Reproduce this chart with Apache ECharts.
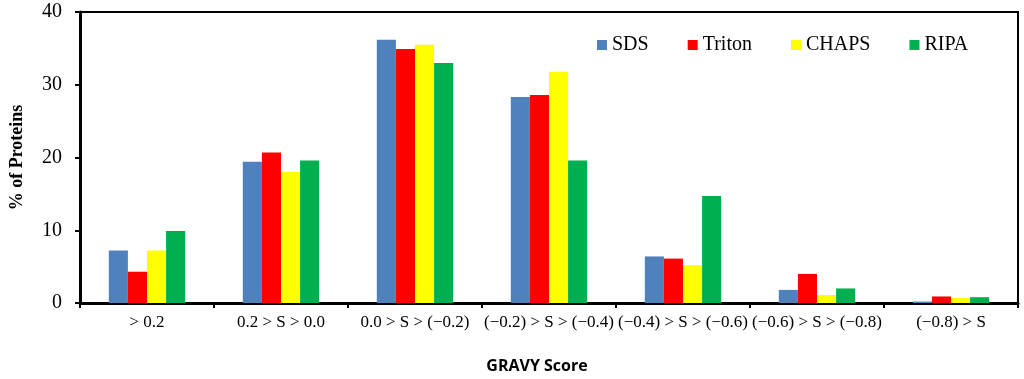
<!DOCTYPE html>
<html>
<head>
<meta charset="utf-8">
<script src="https://cdn.jsdelivr.net/npm/echarts@6/dist/echarts.min.js"></script>
<style>html,body{margin:0;padding:0;background:#fff;}#c{width:1024px;height:379px;}</style>
</head>
<body>
<div id="c"></div>
<script>
const categories = ['> 0.2', '0.2 > S > 0.0', '0.0 > S > (\u22120.2)', '(\u22120.2) > S > (\u22120.4)', '(\u22120.4) > S > (\u22120.6)', '(\u22120.6) > S > (\u22120.8)', '(\u22120.8) > S'];
const sds    = [7.2, 19.4, 36.2, 28.3, 6.4, 1.8, 0.2];
const triton = [4.3, 20.7, 34.9, 28.6, 6.1, 4.0, 0.9];
const chaps  = [7.2, 18.0, 35.5, 31.8, 5.2, 1.1, 0.7];
const ripa   = [9.9, 19.6, 33.0, 19.6, 14.7, 2.0, 0.8];
const seriesNames = ['SDS', 'Triton', 'CHAPS', 'RIPA'];
const colors = ['#4F81BD', '#FF0000', '#FFFF00', '#00B050'];
const yTicks = { min: 0, max: 40, interval: 10 };

const chart = echarts.init(document.getElementById('c'), null, { renderer: 'canvas' });
const serif = '"Liberation Serif", "Times New Roman", serif';
const data = [sds, triton, chaps, ripa];
chart.setOption({
  animation: false,
  color: colors,
  grid: { left: 75, right: 6, top: 12, bottom: 76, show: true, borderColor: '#000', borderWidth: 2, containLabel: false },
  legend: {
    data: seriesNames,
    left: 592, top: 30,
    icon: 'rect', itemWidth: 10, itemHeight: 10, itemGap: 39,
    textStyle: { fontFamily: serif, fontSize: 20, color: '#000' }
  },
  xAxis: {
    type: 'category',
    data: categories,
    name: 'GRAVY Score',
    nameLocation: 'middle',
    nameGap: 55,
    nameTextStyle: { fontFamily: '"Open Sans", sans-serif', fontWeight: 'bold', fontSize: 16, color: '#000', padding: [0, 24, 0, 0] },
    axisLine: { lineStyle: { color: '#000', width: 3 } },
    axisTick: { show: true, length: 5, lineStyle: { color: '#000', width: 2 } },
    axisLabel: { interval: 0, margin: 11, fontFamily: serif, fontSize: 17, color: '#000' },
    splitLine: { show: false }
  },
  yAxis: {
    type: 'value',
    min: yTicks.min, max: yTicks.max, interval: yTicks.interval,
    name: '% of Proteins',
    nameLocation: 'middle',
    nameGap: 54,
    nameRotate: 90,
    nameTextStyle: { fontFamily: serif, fontWeight: 'bold', fontSize: 18, color: '#000' },
    axisLine: { show: true, lineStyle: { color: '#000', width: 3 } },
    axisTick: { show: true, length: 5, lineStyle: { color: '#000', width: 2 } },
    axisLabel: { margin: 18, fontFamily: serif, fontSize: 20, color: '#000' },
    splitLine: { show: false }
  },
  series: seriesNames.map((n, i) => ({
    name: n,
    type: 'bar',
    data: data[i],
    barGap: '0%',
    barCategoryGap: '43%',
    itemStyle: { color: colors[i] }
  }))
});
</script>
</body>
</html>
